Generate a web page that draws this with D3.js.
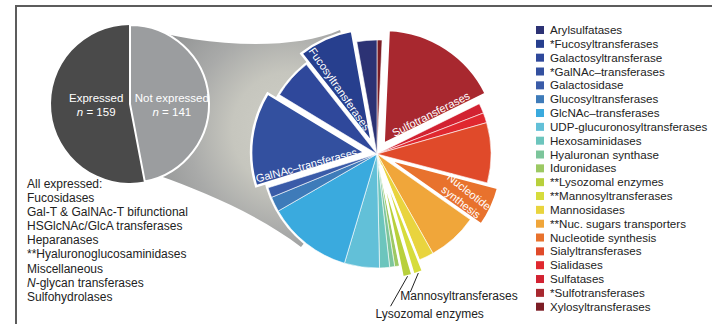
<!DOCTYPE html>
<html>
<head>
<meta charset="utf-8">
<script src="https://cdn.jsdelivr.net/npm/d3@7"></script>
<style>
  html, body { margin: 0; padding: 0; background: #fff; }
  svg { display: block; font-family: "Liberation Sans", Arial, Helvetica, sans-serif; }
</style>
</head>
<body>
<svg id="chart" width="712" height="324"></svg>
<script>
// ---- Data -------------------------------------------------------------
// Overall split of the glycogene set
const overviewLabels = ["Not expressed", "Expressed"];
const overviewCounts = [141, 159];

// Families among the not-expressed genes (legend order)
const families = [
  "Arylsulfatases", "*Fucosyltransferases", "Galactosyltransferase", "*GalNAc\u2013transferases",
  "Galactosidase", "Glucosyltransferases", "GlcNAc\u2013transferases", "UDP-glucuronosyltransferases",
  "Hexosaminidases", "Hyaluronan synthase", "Iduronidases", "**Lysozomal enzymes",
  "**Mannosyltransferases", "Mannosidases", "**Nuc. sugars transporters", "Nucleotide synthesis",
  "Sialyltransferases", "Sialidases", "Sulfatases", "*Sulfotransferases", "Xylosyltransferases"
];
const familyCounts = [4, 11, 8, 19, 2, 3, 17, 7, 2, 1, 1, 2, 2, 3, 10, 8, 12, 2, 2, 24, 1];
const familyColors = [
  "#2c3274", "#273f8e", "#2f489b", "#33509f", "#3a5ba8", "#3e7bb9", "#3aaade", "#62c0d8",
  "#6cc5bd", "#7cc59b", "#9cc963", "#b8d03c", "#d6dc3c", "#e9d43e", "#f0a63a", "#e8722d",
  "#e04a2a", "#e0282f", "#d22232", "#a8282f", "#7c1d25"
];

// Slices pulled out of the pie, with their in-slice captions
const pulledOut = ["*Fucosyltransferases", "*GalNAc\u2013transferases", "*Sulfotransferases",
                   "Nucleotide synthesis", "**Mannosyltransferases", "**Lysozomal enzymes"];
const sliceCaptions = {
  "*Fucosyltransferases": ["Fucosyltransferases"],
  "*GalNAc\u2013transferases": ["GalNAc\u2013transferases"],
  "*Sulfotransferases": ["Sulfotransferases"],
  "Nucleotide synthesis": ["Nucleotide", "synthesis"]
};
const calloutCaptions = {
  "**Mannosyltransferases": "Mannosyltransferases",
  "**Lysozomal enzymes": "Lysozomal enzymes"
};

// Families with every member expressed
const allExpressed = [
  "All expressed:", "Fucosidases", "Gal-T & GalNAc-T bifunctional", "HSGlcNAc/GlcA transferases",
  "Heparanases", "**Hyaluronoglucosaminidases", "Miscellaneous", "N-glycan transferases", "Sulfohydrolases"
];

// ---- Layout -----------------------------------------------------------
const small = { cx: 130, cy: 104, r: 79 };
const big = { cx: 377, cy: 154, r: 114, pull: 12 };
const captionLayout = {
  "*Fucosyltransferases": { at: 0.30, r: 75, rotate: 55 },
  "*GalNAc\u2013transferases": { at: 0.17, r: 71.5, rotate: -15 },
  "*Sulfotransferases": { at: 0.83, r: 67, rotate: -27 },
  "Nucleotide synthesis": { at: 0.55, r: 98, rotate: 38, lineGap: 13 }
};
const calloutLayout = {
  "**Mannosyltransferases": { line: [-8, 19], text: [-18, 27] },
  "**Lysozomal enzymes": { line: [-17, 30], text: [-32, 42] }
};

const svg = d3.select("#chart");
const defs = svg.append("defs");

// Outer frame (top and left rules)
svg.append("path")
  .attr("d", "M16,324V6H712")
  .attr("fill", "none")
  .attr("stroke", "#5c5c5c")
  .attr("stroke-width", 2);

// ---- Connector band between the two pies ------------------------------
const grad = defs.append("radialGradient")
  .attr("id", "band")
  .attr("gradientUnits", "userSpaceOnUse")
  .attr("cx", 290).attr("cy", 130).attr("r", 165);
[[0, "#cfcfc7"], [0.35, "#c6c6be"], [0.62, "#a9aaa9"], [1, "#8b8d8e"]].forEach(([o, c]) =>
  grad.append("stop").attr("offset", o).attr("stop-color", c));

const band = d3.path();
band.moveTo(small.cx, small.cy);
band.lineTo(134, 26);
band.bezierCurveTo(200, 46, 290, 52, 340, 30);
band.lineTo(big.cx, big.cy);
band.lineTo(301, 247);
band.bezierCurveTo(260, 215, 200, 190, 160, 176);
band.closePath();
svg.append("path").attr("d", band.toString()).attr("fill", "url(#band)");

// ---- Overview pie -----------------------------------------------------
const smallPie = d3.pie().sort(null)(overviewCounts);
const smallArc = d3.arc().innerRadius(0).outerRadius(small.r);
const smallLabelArc = d3.arc().innerRadius(0).outerRadius(76);
const gSmall = svg.append("g").attr("transform", `translate(${small.cx},${small.cy})`);
const smallColors = ["#9b9d9f", "#4a4a4a"];
gSmall.selectAll("path.ov")
  .data(smallPie.slice().reverse())
  .join("path")
  .attr("class", "ov")
  .attr("d", smallArc)
  .attr("fill", d => smallColors[d.index])
  .attr("stroke", "#fff")
  .attr("stroke-width", d => d.index === 0 ? 2 : 0)
  .attr("stroke-linejoin", "round");

smallPie.forEach(d => {
  const x = smallLabelArc.centroid(d)[0] + 4;
  const t = gSmall.append("text")
    .attr("text-anchor", "middle")
    .attr("fill", "#fff")
    .attr("font-size", 11.5);
  t.append("tspan").attr("x", x).attr("y", -2).text(overviewLabels[d.index]);
  const l2 = t.append("tspan").attr("x", x).attr("y", 12);
  l2.append("tspan").attr("font-style", "italic").text("n");
  l2.append("tspan").text(" = " + overviewCounts[d.index]);
});

// ---- Breakdown pie ----------------------------------------------------
const rows = families.map((name, i) => ({ name, n: familyCounts[i], color: familyColors[i] }));
// legend order runs counter-clockwise from 12 o'clock, so lay out the reversed list clockwise
const bigPie = d3.pie().sort(null).value(d => d.n)(rows.slice().reverse());
const bigArc = d3.arc().innerRadius(0).outerRadius(big.r);
const gBig = svg.append("g").attr("transform", `translate(${big.cx},${big.cy})`);

gBig.append("circle").attr("r", big.r + 2).attr("fill", "#fff");

const isPulled = d => pulledOut.includes(d.data.name);
const mid = d => (d.startAngle + d.endAngle) / 2;
const shift = d => isPulled(d) ? [big.pull * Math.sin(mid(d)), -big.pull * Math.cos(mid(d))] : [0, 0];

const slices = bigPie.filter(d => !isPulled(d)).concat(bigPie.filter(isPulled));
gBig.selectAll("path.slice")
  .data(slices)
  .join("path")
  .attr("class", "slice")
  .attr("transform", d => `translate(${shift(d)})`)
  .attr("d", bigArc)
  .attr("fill", d => d.data.color)
  .attr("stroke", "#fff")
  .attr("stroke-width", d => isPulled(d) ? 2.5 : 0.6)
  .attr("stroke-linejoin", "miter");

// captions inside pulled-out slices
bigPie.filter(d => sliceCaptions[d.data.name]).forEach(d => {
  const L = captionLayout[d.data.name];
  const a = d.startAngle + L.at * (d.endAngle - d.startAngle);
  const x = L.r * Math.sin(a), y = -L.r * Math.cos(a);
  const lines = sliceCaptions[d.data.name];
  const gap = L.lineGap || 0;
  const t = gBig.append("text")
    .attr("transform", `translate(${x},${y}) rotate(${L.rotate})`)
    .attr("text-anchor", "middle")
    .attr("fill", "#fff")
    .attr("font-size", 11);
  lines.forEach((s, i) => {
    t.append("tspan")
      .attr("x", 0)
      .attr("y", (i - (lines.length - 1) / 2) * gap + 4)
      .text(s);
  });
});

// callouts for the thin pulled-out slices
bigPie.filter(d => calloutCaptions[d.data.name]).forEach(d => {
  const L = calloutLayout[d.data.name];
  const a = mid(d);
  const rr = big.r + big.pull;
  const tx = rr * Math.sin(a), ty = -rr * Math.cos(a);
  gBig.append("line")
    .attr("x1", tx).attr("y1", ty)
    .attr("x2", tx + L.line[0]).attr("y2", ty + L.line[1])
    .attr("stroke", "#222").attr("stroke-width", 1);
  gBig.append("text")
    .attr("x", tx + L.text[0]).attr("y", ty + L.text[1])
    .attr("fill", "#222")
    .attr("font-size", 12)
    .text(calloutCaptions[d.data.name]);
});

// ---- Legend -----------------------------------------------------------
const legendY = d3.scalePoint().domain(families).range([30, 306.7]);
const legend = svg.append("g");
const item = legend.selectAll("g")
  .data(rows)
  .join("g")
  .attr("transform", d => `translate(536,${legendY(d.name)})`);
item.append("rect")
  .attr("x", 0).attr("y", -4).attr("width", 8).attr("height", 8)
  .attr("fill", d => d.color);
item.append("text")
  .attr("x", 14).attr("y", 4)
  .attr("fill", "#222")
  .attr("font-size", 11.6)
  .text(d => d.name);

// ---- Families where everything is expressed ---------------------------
const listY = d3.scalePoint().domain(d3.range(allExpressed.length)).range([187.5, 301]);
const list = svg.append("g");
allExpressed.forEach((s, i) => {
  const t = list.append("text")
    .attr("x", 27).attr("y", listY(i))
    .attr("fill", "#222")
    .attr("font-size", 12);
  if (s.startsWith("N-")) {
    t.append("tspan").attr("font-style", "italic").text("N");
    t.append("tspan").text(s.slice(1));
  } else {
    t.text(s);
  }
});
</script>
</body>
</html>
